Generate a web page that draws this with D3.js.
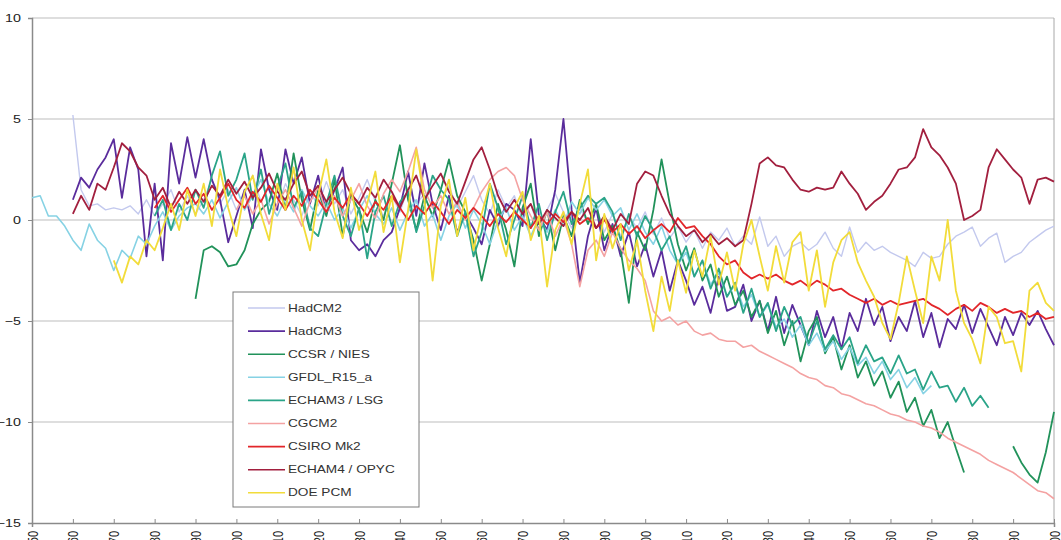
<!DOCTYPE html>
<html>
<head>
<meta charset="utf-8">
<script src="https://cdn.jsdelivr.net/npm/d3@7/dist/d3.min.js"></script>
<style>
  html, body { margin: 0; padding: 0; background: #fff; }
  svg { display: block; font-family: "Liberation Sans", Arial, sans-serif; }
</style>
</head>
<body>
<svg id="chart" width="1061" height="540"></svg>
<script>
// Annual model series, sampled every 2 years from each run's first year.
const yearStep = 2;

const hadcm2Start = 1860;
const hadcm2 = [
  5.2, 1.5, 0.7, 0.8, 0.5, 0.6, 0.5, 0.7, 0.3, 1.0,
  0.2, 0.8, 1.5, 0.4, 1.2, 0.3, 1.0, 2.0, 0.8, 1.5,
  0.5, 1.3, 2.2, 0.9, 1.7, 0.6, 1.8, 1.0, 0.2, 1.4,
  0.7, 1.9, 0.8, 1.5, 0.3, 1.1, 2.0, 0.9, 0.2, 1.2,
  0.4, 1.6, 0.8, 1.3, 0.1, 0.9, 1.7, 0.6, 1.4, 2.2,
  1.0, 0.3, 1.5, 0.6, 1.2, 0.0, 0.8, -0.5, 0.5, 1.3,
  0.4, -0.4, 0.6, -0.2, 0.7, -0.6, 0.3, -0.8, 0.2, -0.4,
  0.4, -0.7, 0.1, -0.9, -0.3, -1.1, -0.5, -1.4, -0.6, -1.0,
  -0.4, -1.3, -0.8, -1.2, 0.15, -1.3, -0.8, -1.8, -1.3, -1.1,
  -1.5, -1.2, -0.6, -1.4, -1.8, -0.35, -1.6, -1.1, -1.5, -1.3,
  -1.6, -1.8, -2.0, -2.3, -1.6, -1.9, -1.8, -1.2, -0.8, -0.6,
  -0.35, -1.3, -0.9, -0.65, -2.1, -1.8, -1.6, -1.1, -0.8, -0.5,
  -0.3
];

const hadcm3Start = 1860;
const hadcm3 = [
  1.0, 2.1, 1.6, 2.5, 3.1, 4.0, 1.1, 3.6, 2.5, -1.8,
  1.8, -2.0, 3.8, 1.8, 4.1, 2.1, 4.0, 2.0, 1.0, -1.1,
  0.2, 1.5, -0.4, 3.5, 1.5, 0.5, 3.5, 1.8, 3.1, 0.8,
  2.2, 0.3, 1.5, 2.6, -1.0, -1.5, -1.2, -1.8, -1.0, -0.6,
  0.6, 2.4, 0.2, 2.8, 0.8, -0.5, 1.2, -0.6, 0.3, -0.4,
  -1.2, 0.5, -0.3, 0.8, 0.5, -0.3, 4.0, 0.2, -0.5, 1.5,
  5.0, 0.5, -3.1, -0.8, 0.6, -1.5, -0.2, -1.8, -0.6, -2.3,
  -1.2, -2.8, -1.5, -3.5, -2.0, -3.0, -4.2, -3.3, -4.6, -2.8,
  -4.5, -4.3, -3.2, -5.0, -4.0, -5.5, -3.8, -5.6, -4.2, -5.2,
  -6.2, -4.5, -5.8, -4.8, -6.4, -4.6, -5.5, -3.9, -5.2, -4.3,
  -6.0, -4.8, -5.5, -4.0, -5.8, -4.6, -6.3, -4.9, -5.4, -4.2,
  -5.6, -4.4, -5.3, -6.2, -4.8, -5.7, -4.6, -5.2, -4.5, -5.4,
  -6.2
];

const ccsrStart = 1890;
const ccsr = [
  -3.9, -1.5, -1.3, -1.6, -2.3, -2.2, -1.5, -0.2, 0.5, 0.9,
  2.3, 0.5, 3.3, 1.0, -0.5, 1.5, 0.2, 2.0, -0.8, 1.2,
  0.5, -0.6, 1.0, 0.0, 1.8, 3.7, 1.0, -0.5, 1.2, 0.2,
  1.5, 3.0, 1.2, 0.4, -1.0, -3.0, -1.2, 0.8, -0.5, -2.3,
  0.6, 1.8, -0.8, 0.5, -1.5, 0.2, -0.8, 1.0, -0.2, 0.8,
  -1.0, -0.3, -1.5, -4.1, -0.6, -1.5, 0.5, 3.0, 0.8, -1.2,
  -2.5, -1.4, -3.0, -2.2, -3.8, -2.8, -4.2, -3.5, -4.8, -4.0,
  -5.6, -4.5, -6.2, -5.0, -7.0, -5.5, -4.8, -6.6, -5.8, -7.4,
  -6.2, -7.8, -7.0, -8.2, -7.5, -8.8, -8.0, -9.5, -8.8, -10.2,
  -9.4, -10.8, -10.0, -11.3, -12.5, null, null, null, null, null,
  -11.2, -12.0, -12.6, -13.0, -11.5, -9.5
];

const gfdlStart = 1850;
const gfdl = [
  1.1, 1.2, 0.2, 0.2, -0.3, -1.0, -1.5, -0.2, -1.0, -1.4,
  -2.5, -1.5, -1.9, -0.8, -1.2, -0.3, 0.4, -0.5, 0.2, 0.6,
  0.8, 0.3, 1.0, 0.1, 0.9, 1.6, 0.5, 1.2, 2.0, 0.8,
  0.2, 1.1, 0.4, 1.5, 0.7, 0.2, 0.9, 0.0, 0.6, -0.4,
  0.5, 1.2, 0.3, -0.2, 0.6, -0.5, 0.4, 1.0, -0.3, 0.3,
  -1.0, 0.2, 0.8, -0.4, 0.5, -0.2, -1.2, 0.0, 0.6, -0.5,
  0.2, -0.8, 0.1, -0.6, 0.5, -0.3, 0.9, 0.3, 1.1, 0.5,
  1.0, 0.2, 0.6, -0.5, 0.3, -0.6, -1.2, -0.3, -1.5, -2.2,
  -1.6, -2.8, -2.0, -3.2, -2.6, -3.8, -3.2, -4.3, -3.7, -4.8,
  -4.2, -5.3, -4.9, -5.8, -5.2, -6.2, -5.6, -6.5, -6.0, -6.9,
  -6.3, -7.2, -6.8, -7.6, -7.0, -7.9, -7.4, -8.3, -7.8, -8.6,
  -8.2
];

const echam3Start = 1880;
const echam3 = [
  0.2, 1.0, -0.5, 0.8, 0.0, 1.5, 0.6, 2.2, 3.4, 1.2,
  2.0, 3.3, 1.0, 2.5, 0.3, 1.6, 2.8, 0.6, 1.4, -0.4,
  -0.8, 0.8, 2.2, 0.2, -0.8, 0.6, -1.9, 0.4, 1.2, -0.3,
  0.9, 1.4, -0.6, 0.7, 2.2, 1.5, 1.0, -0.8, 0.4, -1.8,
  -0.6, 1.8, 0.6, -1.2, 0.0, 1.2, -0.4, 0.8, -1.0, 0.4,
  1.4, -0.2, 0.6, 1.2, 0.8, 1.1, 0.4, -1.0, 0.3, -0.8,
  0.2, -0.5, -1.5, -0.8, -2.2, -1.3, -2.8, -2.0, -3.4, -2.4,
  -3.8, -3.1, -4.6, -3.4, -4.8, -4.1, -5.5, -4.3, -5.2, -4.8,
  -6.1, -5.0, -6.4, -5.7, -6.4, -5.8, -7.1, -6.2, -7.0, -6.8,
  -7.6, -6.7, -7.6, -7.4, -8.4, -7.5, -8.3, -8.2, -9.0, -8.3,
  -9.2, -8.7, -9.3
];

const cgcm2Start = 1900;
const cgcm2 = [
  0.5, 1.2, 0.3, 1.0, -0.2, 0.8, 1.5, 0.6, -0.3, 0.9,
  1.6, 0.4, 1.2, 0.2, 1.0, 1.8, 0.7, 0.1, 1.3, 2.0,
  1.4, 2.4, 3.6, 1.5, 0.6, 1.2, 0.3, 0.9, 0.0, 0.6,
  1.4, 2.0, 2.4, 2.6, 2.2, 1.0, 0.2, -0.5, 0.4, -0.8,
  0.1, -1.2, -3.3, -1.5, -1.0, -1.8, -0.6, -1.4, -2.0, -2.4,
  -3.0, -4.5, -5.0, -4.8, -5.2, -5.0, -5.5, -5.7, -5.6, -5.9,
  -6.0, -6.0, -6.3, -6.2, -6.5, -6.7, -6.9, -7.1, -7.3, -7.6,
  -7.8, -7.9, -8.2, -8.3, -8.6, -8.7, -8.9, -9.1, -9.2, -9.4,
  -9.6, -9.7, -9.9, -10.0, -10.2, -10.3, -10.5, -10.8, -11.0, -11.2,
  -11.4, -11.6, -11.9, -12.1, -12.3, -12.5, -12.8, -13.1, -13.4, -13.5,
  -13.8
];

const csiroStart = 1880;
const csiro = [
  0.6, 1.2, 0.4, 1.0, 1.6, 0.8, 1.3, 0.5, 1.1, 1.8,
  1.0, 0.6, 1.4, 0.9, 1.7, 1.1, 0.5, 1.2, 0.7, 1.5,
  1.0, 0.4, 1.1, 0.6, 1.3, 0.8, 0.2, 0.9, 0.5, 1.2,
  0.6, 0.0, 0.7, 0.3, 0.9, 0.4, -0.2, 0.5, 0.1, 0.6,
  0.2, -0.3, 0.3, -0.1, 0.4, 0.0, -0.4, 0.2, -0.2, 0.3,
  -0.1, 0.4, -0.2, 0.1, -0.4, 0.0, -0.6, -0.2, -0.7, -0.3,
  -0.9, -0.5, -0.2, -0.6, 0.1, -0.4, -0.3, -0.8, -1.2, -1.8,
  -2.2, -2.0, -2.6, -2.9, -2.7, -2.9, -2.7, -3.0, -3.2, -3.0,
  -3.3, -3.0, -3.2, -3.5, -3.4, -3.7, -3.9, -4.1, -3.9, -4.2,
  -4.0, -4.2, -4.1, -4.0, -3.9, -4.2, -4.4, -4.7, -4.4, -4.2,
  -4.5, -4.1, -4.3, -4.6, -4.4, -4.6, -4.5, -4.8, -4.6, -4.9,
  -4.8
];

const echam4Start = 1860;
const echam4 = [
  0.3, 1.2, 0.5, 1.8, 1.5, 2.6, 3.8, 3.4, 2.6, 2.2,
  1.0, 1.6, 0.6, 1.4, 0.8, 1.5, 0.9, 1.7, 1.2, 2.0,
  1.3, 1.9, 1.1, 1.6, 2.3, 1.4, 1.0, 1.8, 2.4, 1.2,
  1.7, 0.9, 1.5, 2.1, 1.3, 0.8, 1.6, 1.1, 2.0, 1.4,
  0.6, 1.5, 2.2, 1.0, 1.7, 2.3, 1.4, 0.8, 1.9, 3.0,
  3.6, 2.5, 1.2, 0.4, 1.0, 0.3, 0.8, -0.2, 0.5, 0.1,
  -0.3, 0.4, 0.0, 0.6, -0.4, 0.2, -0.5, 0.3, -0.2, 1.8,
  2.4, 2.2, 1.2, 0.3, -0.3, -0.8, -0.5, -1.1, -0.7, -1.2,
  -0.9, -1.3, -1.0, 0.8, 2.8, 3.1, 2.7, 2.6, 2.0, 1.5,
  1.4, 1.6, 1.5, 1.6, 2.4, 1.8, 1.3, 0.5, 0.9, 1.2,
  1.8, 2.5, 2.6, 3.1, 4.5, 3.6, 3.2, 2.6, 1.8, 0.0,
  0.2, 0.5, 2.6, 3.5, 3.0, 2.5, 2.1, 0.8, 2.0, 2.1,
  1.9
];

const pcmStart = 1870;
const pcm = [
  -2.0, -3.1, -1.8, -2.2, -1.0, -1.5, -0.4, 0.8, -0.5, 1.5,
  0.2, 1.8, -0.3, 2.5, 0.6, -0.8, 1.4, 2.2, 0.3, -1.0,
  1.8, 0.5, 2.6, 0.0, -1.5, 1.2, 3.0, 0.4, -0.9, 1.6,
  -0.5, 0.8, 2.4, -0.6, 1.2, -2.1, 0.5, 3.5, 1.0, -3.0,
  0.7, 2.0, -0.8, 1.1, -1.5, 0.3, 1.8, -0.4, -1.8, 0.6,
  1.4, -1.0, 0.2, -3.3, -0.5, 0.4, -1.2, 0.8, 2.5, -2.0,
  0.3, -1.4, -0.2, -2.5, -1.0, -3.5, -5.5, -2.8, -4.5, -2.0,
  -3.6, -1.5, -2.8, -0.8, -3.2, -1.6, -3.5, -1.2, 0.0, -1.8,
  -3.5, -1.3, -3.1, -1.1, -0.6, -3.5, -1.5, -4.3, -2.1, -1.0,
  -0.6, -2.1, -3.0, -3.8, -5.1, -5.9, -4.1, -1.8, -3.5, -5.1,
  -1.8, -3.0, 0.0, -3.5, -5.1, -5.9, -7.1, -4.3, -4.8, -6.1,
  -6.0, -7.5, -3.5, -3.1, -4.1, -4.5
];

const seriesNames = ["HadCM2", "HadCM3", "CCSR / NIES", "GFDL_R15_a", "ECHAM3 / LSG",
                     "CGCM2", "CSIRO Mk2", "ECHAM4 / OPYC", "DOE PCM"];
const seriesStarts = [hadcm2Start, hadcm3Start, ccsrStart, gfdlStart, echam3Start,
                      cgcm2Start, csiroStart, echam4Start, pcmStart];
const seriesValues = [hadcm2, hadcm3, ccsr, gfdl, echam3, cgcm2, csiro, echam4, pcm];

const yTicks = [10, 5, 0, -5, -10, -15];
const xTickYears = d3.range(1850, 2101, 10);

// Styling
const seriesColors = ["#c3c9ee", "#5a2c9c", "#21925a", "#86d2e4", "#2aa488",
                      "#f4a2a2", "#e2262a", "#a21f3e", "#f2dc3a"];
const seriesWidths = [1.4, 1.8, 1.8, 1.6, 1.8, 1.6, 1.8, 1.8, 1.8];
const textStretch = 1.3;   // labels are set slightly wide

const plot = { left: 32, right: 1054, top: 18, bottom: 523 };

const svg = d3.select("#chart");

const x = d3.scaleLinear().domain([1850, 2100]).range([plot.left, plot.right]);
const y = d3.scaleLinear().domain([-15, 10]).range([plot.bottom, plot.top]);

// Horizontal gridlines
svg.append("g")
  .selectAll("line")
  .data(yTicks.filter(v => v > -15))
  .join("line")
  .attr("x1", plot.left).attr("x2", plot.right)
  .attr("y1", d => y(d)).attr("y2", d => y(d))
  .attr("stroke", "#bdbdbd").attr("stroke-width", 1);

// Right border
svg.append("line")
  .attr("x1", plot.right).attr("x2", plot.right)
  .attr("y1", plot.top).attr("y2", plot.bottom)
  .attr("stroke", "#a8a8a8").attr("stroke-width", 1);

// Y axis (labels drawn separately so they can be stretched)
const yAxis = d3.axisLeft(y).tickValues(yTicks).tickSize(4).tickFormat("");
const gy = svg.append("g").attr("transform", `translate(${plot.left},0)`).call(yAxis);
gy.select(".domain").attr("stroke", "#8a8a8a").attr("stroke-width", 1.5);
gy.selectAll(".tick line").attr("stroke", "#8a8a8a");

svg.append("g")
  .selectAll("text")
  .data(yTicks)
  .join("text")
  .attr("transform", d => `translate(21,${y(d)}) scale(${textStretch},1)`)
  .attr("text-anchor", "end")
  .attr("dy", "0.35em")
  .attr("fill", "#222")
  .style("font-size", "11px")
  .text(d => d3.format("d")(d));

// X axis
const xAxis = d3.axisBottom(x).tickValues(xTickYears).tickSize(4).tickFormat(d3.format("d"));
const gx = svg.append("g").attr("transform", `translate(0,${plot.bottom})`).call(xAxis);
gx.select(".domain").attr("stroke", "#8a8a8a").attr("stroke-width", 1.5);
gx.selectAll(".tick line").attr("stroke", "#8a8a8a").attr("y1", -4).attr("y2", 1);
gx.selectAll(".tick text")
  .attr("fill", "#222")
  .style("font-size", "11px")
  .style("font-family", "'Liberation Sans', Arial, sans-serif")
  .attr("text-anchor", "end")
  .attr("dy", "0.35em")
  .attr("transform", `translate(0,8) scale(${textStretch},1) rotate(-90)`)
  .attr("x", 0).attr("y", 0);

// Series lines
const series = seriesNames.map((name, i) => ({
  name,
  color: seriesColors[i],
  width: seriesWidths[i],
  points: seriesValues[i].map((v, j) => ({ year: seriesStarts[i] + j * yearStep, value: v }))
}));

const line = d3.line()
  .defined(d => d.value !== null)
  .x(d => x(d.year))
  .y(d => y(d.value))
  .curve(d3.curveLinear);

svg.append("g")
  .selectAll("path")
  .data(series)
  .join("path")
  .attr("d", d => line(d.points))
  .attr("fill", "none")
  .attr("stroke", d => d.color)
  .attr("stroke-width", d => d.width)
  .attr("stroke-linejoin", "round");

// Legend
const legend = { x: 233, y: 292, w: 186, h: 215, first: 308, gap: 23.1 };
const lg = svg.append("g");
lg.append("rect")
  .attr("x", legend.x).attr("y", legend.y)
  .attr("width", legend.w).attr("height", legend.h)
  .attr("fill", "#fff").attr("stroke", "#7a7a7a").attr("stroke-width", 1);

const items = lg.selectAll("g.item")
  .data(series)
  .join("g")
  .attr("class", "item")
  .attr("transform", (d, i) => `translate(0,${legend.first + i * legend.gap})`);

items.append("line")
  .attr("x1", 248).attr("x2", 285)
  .attr("y1", 0).attr("y2", 0)
  .attr("stroke", d => d.color)
  .attr("stroke-width", 1.6);

items.append("text")
  .attr("transform", `translate(288,0) scale(${textStretch},1)`)
  .attr("dy", "0.35em")
  .attr("fill", "#333")
  .style("font-size", "10.5px")
  .text(d => d.name);
</script>
</body>
</html>
